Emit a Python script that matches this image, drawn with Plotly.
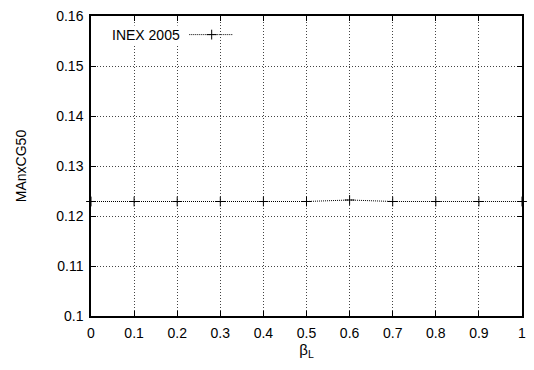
import plotly.graph_objects as go

beta_l = [0.0, 0.1, 0.2, 0.3, 0.4, 0.5, 0.6, 0.7, 0.8, 0.9, 1.0]
manxcg50 = [0.1229, 0.1229, 0.1229, 0.1229, 0.1229, 0.1229, 0.1232, 0.1229, 0.1229, 0.1229, 0.1229]
series_name = "INEX 2005"

x_ticks = [0, 0.1, 0.2, 0.3, 0.4, 0.5, 0.6, 0.7, 0.8, 0.9, 1]
x_tick_text = ["0", "0.1", "0.2", "0.3", "0.4", "0.5", "0.6", "0.7", "0.8", "0.9", "1"]
y_ticks = [0.10, 0.11, 0.12, 0.13, 0.14, 0.15, 0.16]
y_tick_text = ["0.1", "0.11", "0.12", "0.13", "0.14", "0.15", "0.16"]

FONT = "Liberation Sans, Arial, sans-serif"

fig = go.Figure()

fig.add_trace(go.Scatter(
    x=beta_l, y=manxcg50, mode="lines+markers", name=series_name,
    line=dict(color="black", width=1, dash="1px,1px"),
    marker=dict(symbol="cross-thin", size=7, line=dict(color="black", width=1)),
    cliponaxis=False, showlegend=False,
))

# legend key drawn on an overlay axis fixed to [0, 1]
fig.add_trace(go.Scatter(
    x=[0.228, 0.33], y=[0.938, 0.938], mode="lines",
    line=dict(color="black", width=1, dash="1px,1px"),
    xaxis="x2", yaxis="y2", showlegend=False, hoverinfo="skip",
))
fig.add_trace(go.Scatter(
    x=[0.28], y=[0.938], mode="markers",
    marker=dict(symbol="cross-thin", size=7, line=dict(color="black", width=1)),
    xaxis="x2", yaxis="y2", showlegend=False, hoverinfo="skip",
))
fig.add_annotation(
    text=series_name, xref="x2", yref="y2", x=0.212, y=0.938,
    xanchor="right", yanchor="middle", showarrow=False,
    font=dict(family=FONT, size=14, color="black"),
    bgcolor="white",
)

axis_common = dict(
    showline=True, linecolor="black", linewidth=1.5, mirror="ticks",
    ticks="inside", ticklen=5, tickcolor="black", tickwidth=1,
    showgrid=True, gridcolor="#444444", gridwidth=1, griddash="1px,2px",
    zeroline=False, tickfont=dict(family=FONT, size=14, color="black"),
)

fig.update_layout(
    width=534, height=370,
    margin=dict(l=91, r=8, t=9, b=54),
    paper_bgcolor="white", plot_bgcolor="white",
    showlegend=False,
    xaxis=dict(range=[0, 1], tickvals=x_ticks, ticktext=x_tick_text, ticklabelstandoff=3,
               title=dict(text="β<sub>L</sub>", font=dict(family=FONT, size=15, color="black"), standoff=4),
               **axis_common),
    yaxis=dict(range=[0.1, 0.16], tickvals=y_ticks, ticktext=y_tick_text, ticklabelstandoff=3,
               title=dict(text="MAnxCG50", font=dict(family=FONT, size=14, color="black"), standoff=26),
               **axis_common),
    xaxis2=dict(range=[0, 1], overlaying="x", visible=False, fixedrange=True),
    yaxis2=dict(range=[0, 1], overlaying="y", visible=False, fixedrange=True),
)

fig.write_html("out.html")
